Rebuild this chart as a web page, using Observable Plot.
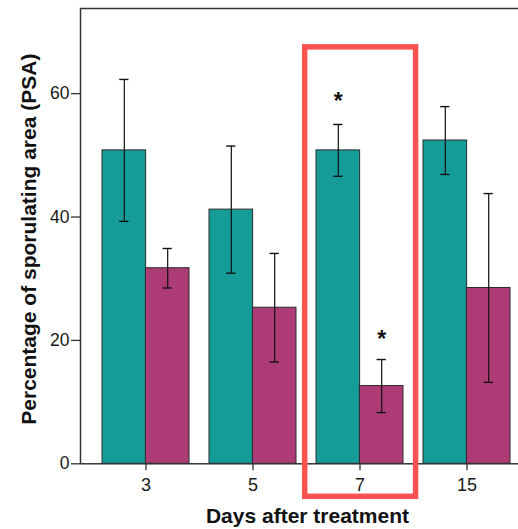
<!DOCTYPE html>
<html>
<head>
<meta charset="utf-8">
<script src="https://cdn.jsdelivr.net/npm/d3@7"></script>
<script src="https://cdn.jsdelivr.net/npm/@observablehq/plot@0.6"></script>
<style>
  html, body { margin: 0; padding: 0; background: #fff; overflow: hidden; }
  #chart svg { display: block; overflow: hidden; }
</style>
</head>
<body>
<div id="chart"></div>
<script>
// ---- data ----
const days = ["3", "5", "7", "15"];
const tealMean = [50.8, 41.2, 50.8, 52.4];
const tealErr = [11.5, 10.3, 4.2, 5.5];
const purpleMean = [31.7, 25.3, 12.6, 28.5];
const purpleErr = [3.2, 8.8, 4.3, 15.3];
const starDays = ["7", "7"];
const starSeries = ["teal", "purple"];
const starY = [59.6, 21.1];
const highlightDay = ["7"];
const highlightRange = [-5.35, 67.5];
const yTicks = [0, 20, 40, 60];
const xTitle = "Days after treatment";
const yTitle = "Percentage of sporulating area (PSA)";

// ---- layout ----
const W = 518, H = 529;
const mL = 80, mR = -14.6, mT = 8, mB = 65.7;
const padInner = 0.19, padOuter = 0.208;
const rangeLen = (W - mR) - mL;
const step = rangeLen / (days.length - padInner + 2 * padOuter);
const bw = step * (1 - padInner);
const half = bw / 2;
const off = bw / 4;
const capW = 9;

const teal = "#169c98", purple = "#ad3c76", edge = "#2a2a2a";
const font = "'Liberation Sans', Arial, Helvetica, sans-serif";

const tealData = days.map((d, i) => ({day: d, v: tealMean[i], lo: tealMean[i] - tealErr[i], hi: tealMean[i] + tealErr[i]}));
const purpleData = days.map((d, i) => ({day: d, v: purpleMean[i], lo: purpleMean[i] - purpleErr[i], hi: purpleMean[i] + purpleErr[i]}));
const stars = starDays.map((d, i) => ({day: d, s: starSeries[i], y: starY[i]}));
const hl = highlightDay.map(d => ({day: d, y1: highlightRange[0], y2: highlightRange[1]}));

const capInset = half - capW / 2;

const plot = Plot.plot({
  width: W, height: H,
  marginLeft: mL, marginRight: mR, marginTop: mT, marginBottom: mB,
  style: {fontFamily: font, fontSize: "17px", color: "#1a1a1a", background: "#fff"},
  x: {domain: days, paddingInner: padInner, paddingOuter: padOuter, axis: null},
  y: {domain: [0, 73.8], axis: null},
  marks: [
    Plot.barY(tealData, {x: "day", y: "v", fill: teal, stroke: edge, strokeWidth: 1, insetRight: half}),
    Plot.barY(purpleData, {x: "day", y: "v", fill: purple, stroke: edge, strokeWidth: 1, insetLeft: half}),
    Plot.ruleX(tealData, {x: "day", y1: "lo", y2: "hi", dx: -off, stroke: "#111", strokeWidth: 1.2}),
    Plot.ruleX(purpleData, {x: "day", y1: "lo", y2: "hi", dx: off, stroke: "#111", strokeWidth: 1.2}),
    Plot.tickY(tealData, {x: "day", y: "lo", dx: -off, insetLeft: capInset, insetRight: capInset, stroke: "#111", strokeWidth: 1.4}),
    Plot.tickY(tealData, {x: "day", y: "hi", dx: -off, insetLeft: capInset, insetRight: capInset, stroke: "#111", strokeWidth: 1.4}),
    Plot.tickY(purpleData, {x: "day", y: "lo", dx: off, insetLeft: capInset, insetRight: capInset, stroke: "#111", strokeWidth: 1.4}),
    Plot.tickY(purpleData, {x: "day", y: "hi", dx: off, insetLeft: capInset, insetRight: capInset, stroke: "#111", strokeWidth: 1.4}),
    Plot.text(stars.filter(d => d.s === "teal"), {x: "day", y: "y", text: () => "*", dx: -off, dy: 6, fontSize: 23, fontWeight: "bold", fill: "#111"}),
    Plot.text(stars.filter(d => d.s === "purple"), {x: "day", y: "y", text: () => "*", dx: off, dy: 6, fontSize: 23, fontWeight: "bold", fill: "#111"}),
    Plot.frame({stroke: "#333", strokeWidth: 1.5}),
    Plot.axisY({ticks: yTicks, tickSize: 9, tickPadding: 2, fontSize: 17.5, label: null, stroke: "#333", strokeWidth: 1.3}),
    Plot.axisX({tickSize: 7, tickPadding: 7, fontSize: 18, label: null, stroke: "#333", strokeWidth: 1.3}),
    Plot.barY(hl, {x: "day", y1: "y1", y2: "y2", fill: "none", stroke: "#fb5252", strokeWidth: 5.5, insetLeft: -11.3, insetRight: -12.6}),
    Plot.text([yTitle], {frameAnchor: "left", textAnchor: "middle", text: d => d, rotate: -90, dx: -50.8, dy: 3, fontSize: 21, fontWeight: "bold", fill: "#111"}),
    Plot.text([xTitle], {frameAnchor: "bottom", textAnchor: "middle", text: d => d, dy: 59, dx: 0.7, fontSize: 21, fontWeight: "bold", fill: "#111"})
  ]
});
document.getElementById("chart").appendChild(plot);
</script>
</body>
</html>
